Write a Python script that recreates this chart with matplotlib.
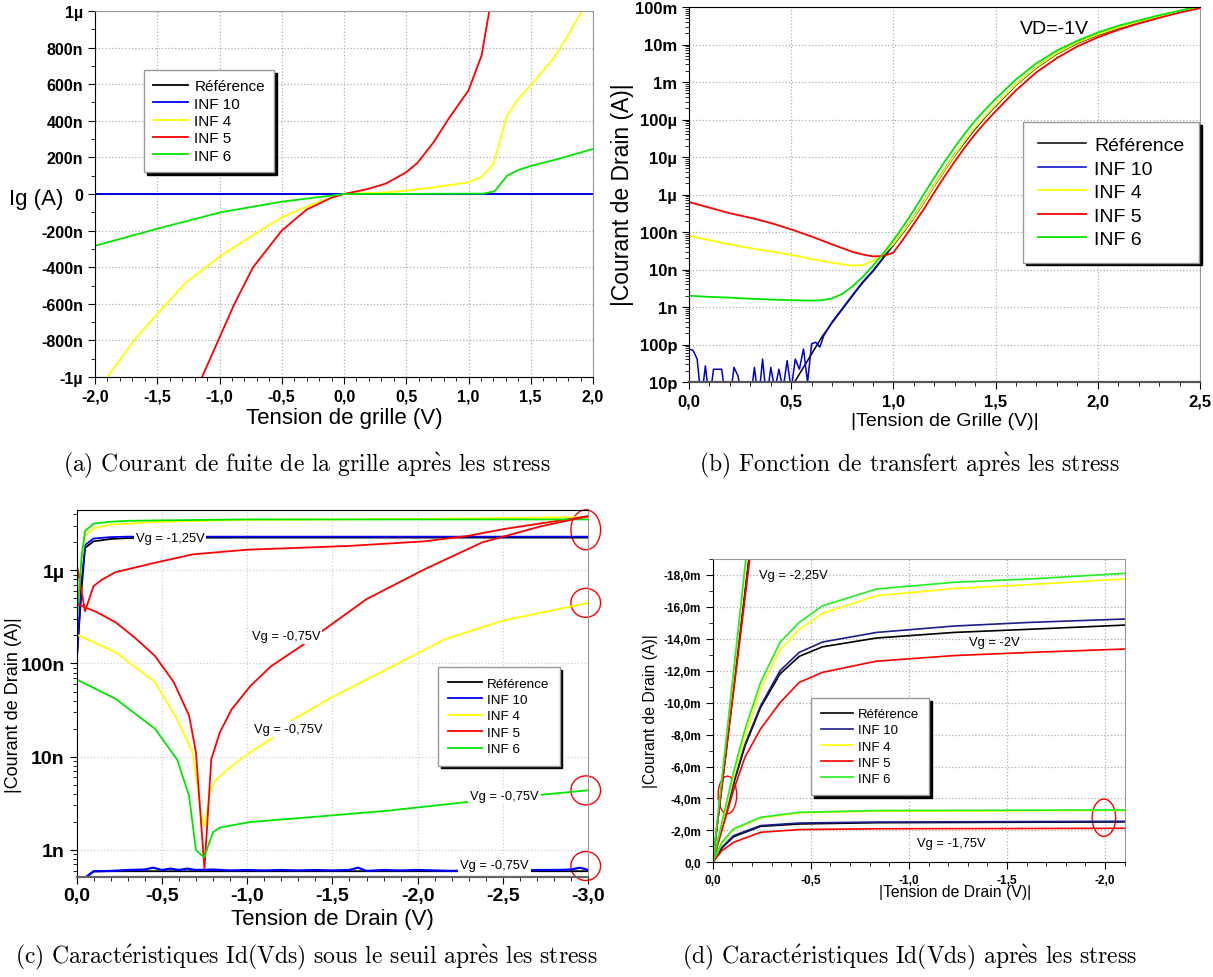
import numpy as np
import matplotlib
matplotlib.use("Agg")
import matplotlib.pyplot as plt
from matplotlib.patches import Ellipse
from matplotlib.ticker import MultipleLocator, LogLocator, NullFormatter

plt.rcParams['font.family'] = ['Liberation Sans', 'DejaVu Sans']
plt.rcParams['mathtext.fontset'] = 'cm'

# ---------------- data : (a) gate leakage, Ig in nA
a_v_flat = [-2.0, 2.0]
a_ig_flat = [0.0, 0.0]
a_v_inf4 = [-1.9, -1.68, -1.49, -1.27, -0.99, -0.74, -0.5, -0.22, 0.0, 0.34, 0.5, 0.72, 1.0, 1.1, 1.2, 1.31, 1.4, 1.51, 1.68, 1.8, 1.91]
a_ig_inf4 = [-1000, -794, -648, -484, -338, -228, -128, -46, 0, 9, 18, 36, 64, 91, 164, 429, 520, 602, 739, 867, 1000]
a_v_inf5 = [-1.14, -1.01, -0.88, -0.73, -0.5, -0.3, -0.1, 0.0, 0.19, 0.34, 0.5, 0.59, 0.72, 0.84, 1.0, 1.105, 1.167]
a_ig_inf5 = [-1000, -800, -600, -400, -200, -85, -20, 0, 27, 58, 119, 170, 283, 411, 566, 757, 1000]
a_v_inf6 = [-2.0, -1.49, -0.99, -0.5, 0.0, 1.12, 1.21, 1.31, 1.4, 1.51, 1.74, 2.0]
a_ig_inf6 = [-283, -188, -100, -42, 0, 2, 15, 100, 131, 155, 195, 246]

# ---------------- data : (b) transfer, log10(|Id|)
b_v_ref = [0.50, 0.55, 0.60, 0.65, 0.70, 0.75, 0.80, 0.85, 0.90, 0.95, 1.00, 1.05, 1.10, 1.15, 1.20, 1.25,
           1.30, 1.35, 1.40, 1.45, 1.50, 1.60, 1.70, 1.80, 1.90, 2.00, 2.10, 2.20, 2.30, 2.40, 2.50]
b_log_ref = [-11.15, -10.7, -10.25, -9.8, -9.42, -9.06, -8.7, -8.35, -8.05, -7.7, -7.35, -7.0, -6.62, -6.2, -5.77, -5.36,
             -4.96, -4.6, -4.25, -3.93, -3.64, -3.08, -2.62, -2.25, -1.97, -1.75, -1.57, -1.41, -1.27, -1.13, -1.0]
b_v_inf10 = [0.00, 0.02, 0.04, 0.06, 0.08, 0.10, 0.12, 0.14, 0.16, 0.18, 0.20, 0.22, 0.24, 0.26, 0.28, 0.30, 0.32,
             0.34, 0.36, 0.38, 0.40, 0.42, 0.44, 0.46, 0.48, 0.50, 0.52, 0.54, 0.56, 0.58, 0.60, 0.62, 0.64, 0.66,
             0.70, 0.75, 0.80, 0.85, 0.90, 0.95, 1.00, 1.05, 1.10, 1.15, 1.20, 1.25, 1.30, 1.35, 1.40, 1.45, 1.50,
             1.60, 1.70, 1.80, 1.90, 2.00, 2.10, 2.20, 2.30, 2.40, 2.50]
b_log_inf10 = [-10.12, -10.16, -10.39, -11.5, -10.57, -11.5, -10.66, -10.66, -10.66, -11.5, -11.5, -10.61, -10.84,
               -11.5, -11.5, -11.5, -10.61, -11.5, -10.39, -11.5, -10.61, -11.2, -10.66, -11.2, -10.43, -11.2,
               -10.39, -10.66, -10.12, -11.0, -9.98, -9.94, -10.07, -9.76,
               -9.40, -9.04, -8.68, -8.33, -8.03, -7.68, -7.33, -6.97, -6.59, -6.17, -5.74, -5.33, -4.93, -4.57,
               -4.22, -3.91, -3.62, -3.06, -2.6, -2.23, -1.95, -1.73, -1.55, -1.39, -1.25, -1.11, -0.99]
b_v_inf4 = [0.0, 0.1, 0.2, 0.3, 0.4, 0.5, 0.6, 0.7, 0.8, 0.85, 0.9, 0.95, 1.0, 1.05, 1.1, 1.15, 1.2, 1.25, 1.3,
            1.35, 1.4, 1.45, 1.5, 1.6, 1.7, 1.8, 1.9, 2.0, 2.1, 2.2, 2.3, 2.4, 2.5]
b_log_inf4 = [-7.1, -7.22, -7.33, -7.43, -7.52, -7.61, -7.72, -7.82, -7.9, -7.88, -7.77, -7.6, -7.32, -6.97, -6.6,
              -6.18, -5.75, -5.34, -4.94, -4.56, -4.21, -3.9, -3.61, -3.06, -2.6, -2.23, -1.95, -1.73, -1.55, -1.39,
              -1.25, -1.12, -0.99]
b_v_inf5 = [0.0, 0.1, 0.2, 0.3, 0.4, 0.5, 0.6, 0.7, 0.8, 0.85, 0.9, 0.95, 1.0, 1.05, 1.1, 1.15, 1.2, 1.25, 1.3,
            1.35, 1.4, 1.45, 1.5, 1.6, 1.7, 1.8, 1.9, 2.0, 2.1, 2.2, 2.3, 2.4, 2.5]
b_log_inf5 = [-6.2, -6.35, -6.5, -6.62, -6.76, -6.93, -7.12, -7.33, -7.53, -7.6, -7.65, -7.64, -7.55, -7.18, -6.78,
              -6.38, -5.94, -5.52, -5.12, -4.74, -4.39, -4.07, -3.78, -3.22, -2.74, -2.36, -2.05, -1.81, -1.61,
              -1.44, -1.29, -1.15, -1.03]
b_v_inf6 = [0.0, 0.1, 0.2, 0.3, 0.4, 0.5, 0.6, 0.65, 0.7, 0.75, 0.8, 0.85, 0.9, 0.95, 1.0, 1.05, 1.1, 1.15, 1.2,
            1.25, 1.3, 1.35, 1.4, 1.45, 1.5, 1.6, 1.7, 1.8, 1.9, 2.0, 2.1, 2.2, 2.3, 2.4, 2.5]
b_log_inf6 = [-8.7, -8.73, -8.75, -8.78, -8.8, -8.82, -8.83, -8.82, -8.77, -8.65, -8.45, -8.2, -7.9, -7.58, -7.22,
              -6.83, -6.42, -5.98, -5.55, -5.13, -4.74, -4.37, -4.03, -3.73, -3.45, -2.93, -2.5, -2.16, -1.9, -1.68,
              -1.5, -1.36, -1.22, -1.1, -0.97]

# ---------------- data : (c) sub-threshold Id(Vds), log10(|Id|)
c_v_sat = [0.0, -0.03, -0.05, -0.10, -0.20, -0.30, -0.50, -1.0, -2.0, -3.0]
c_log_ref_sat = [-7.0, -6.2, -5.76, -5.69, -5.665, -5.655, -5.652, -5.65, -5.65, -5.65]
c_log_inf10_sat = [-7.0, -6.1, -5.73, -5.66, -5.645, -5.64, -5.64, -5.64, -5.64, -5.64]
c_log_inf4_sat = [-6.5, -5.9, -5.63, -5.55, -5.51, -5.5, -5.48, -5.46, -5.45, -5.43]
c_log_inf6_sat = [-6.6, -5.85, -5.58, -5.5, -5.48, -5.47, -5.465, -5.455, -5.455, -5.455]
c_v_inf5_sat = [0.0, -0.05, -0.10, -0.15, -0.23, -0.46, -0.68, -1.0, -1.59, -2.04, -2.3, -2.5, -2.75, -3.0]
c_log_inf5_sat = [-5.92, -6.44, -6.17, -6.1, -6.02, -5.92, -5.83, -5.78, -5.74, -5.69, -5.63, -5.56, -5.49, -5.42]

c_v_inf5_sub = [0.0, -0.12, -0.23, -0.34, -0.46, -0.57, -0.66, -0.70, -0.75, -0.79, -0.84, -0.91, -1.02, -1.14,
                -1.32, -1.48, -1.70, -2.04, -2.38, -2.72, -3.0]
c_log_inf5_sub = [-6.36, -6.45, -6.56, -6.72, -6.92, -7.2, -7.56, -7.95, -9.2, -8.03, -7.74, -7.49, -7.24, -7.03,
                  -6.81, -6.6, -6.31, -5.99, -5.70, -5.53, -5.42]
c_v_inf4_sub = [0.0, -0.23, -0.46, -0.59, -0.68, -0.73, -0.75, -0.786, -0.82, -0.91, -1.02, -1.14, -1.27, -1.48,
                -1.82, -2.16, -2.5, -3.0]
c_log_inf4_sub = [-6.69, -6.88, -7.2, -7.6, -7.95, -8.6, -8.75, -8.35, -8.24, -8.1, -7.95, -7.81, -7.6, -7.38,
                  -7.06, -6.74, -6.54, -6.35]
c_v_inf6_sub = [0.0, -0.23, -0.46, -0.59, -0.66, -0.70, -0.748, -0.80, -0.84, -1.02, -1.36, -1.82, -2.27, -2.77, -3.0]
c_log_inf6_sub = [-7.17, -7.38, -7.7, -8.03, -8.42, -9.0, -9.08, -8.81, -8.76, -8.70, -8.65, -8.58, -8.49, -8.4, -8.36]
c_v_off = [-0.05, -0.1, -0.2, -0.3, -0.4, -0.45, -0.5, -0.55, -0.6, -0.65, -0.7, -0.8, -0.9, -1.0, -1.1, -1.2,
           -1.3, -1.4, -1.5, -1.6, -1.65, -1.7, -1.8, -1.9, -2.0, -2.1, -2.2, -2.3, -2.4, -2.5, -2.6, -2.7, -2.8,
           -2.9, -2.95, -3.0]
c_log_inf10_off = [-9.30, -9.23, -9.225, -9.215, -9.21, -9.19, -9.215, -9.20, -9.215, -9.20, -9.215, -9.21, -9.22,
                   -9.215, -9.22, -9.215, -9.22, -9.215, -9.22, -9.215, -9.19, -9.225, -9.215, -9.22, -9.215, -9.22,
                   -9.225, -9.22, -9.22, -9.22, -9.22, -9.215, -9.215, -9.21, -9.19, -9.215]
c_v_ref_off = [-0.05, -0.1, -3.0]
c_log_ref_off = [-9.30, -9.228, -9.228]

# ---------------- data : (d) Id(Vds), Id in mA
d_v_lin = [0.0, -0.2]
d_id_lin_ref = [0.0, -20.5]
d_id_lin_inf10 = [0.0, -20.6]
d_id_lin_inf4 = [0.0, -22.0]
d_id_lin_inf5 = [0.0, -20.1]
d_id_lin_inf6 = [0.0, -22.5]
d_v_2 = [0.0, -0.047, -0.106, -0.165, -0.244, -0.343, -0.441, -0.56, -0.835, -1.23, -1.62, -2.1]
d_id_2_ref = [0, -2.2, -4.9, -7.3, -9.7, -11.8, -12.9, -13.5, -14.05, -14.4, -14.6, -14.86]
d_id_2_inf10 = [0, -2.2, -5.0, -7.4, -9.8, -12.0, -13.15, -13.8, -14.4, -14.8, -15.03, -15.24]
d_id_2_inf4 = [0, -2.3, -5.3, -7.9, -10.86, -13.3, -14.6, -15.6, -16.7, -17.15, -17.4, -17.75]
d_id_2_inf5 = [0, -2.0, -4.5, -6.6, -8.35, -10.0, -11.27, -11.9, -12.6, -12.95, -13.15, -13.36]
d_id_2_inf6 = [0, -2.5, -5.64, -8.35, -11.27, -13.78, -15.03, -16.07, -17.12, -17.54, -17.75, -18.1]
d_v_175 = [0.0, -0.047, -0.106, -0.244, -0.441, -0.835, -2.1]
d_id_175_ref = [0, -0.9, -1.6, -2.25, -2.4, -2.48, -2.53]
d_id_175_inf10 = [0, -0.94, -1.67, -2.3, -2.46, -2.52, -2.57]
d_id_175_inf4 = [0, -1.2, -2.05, -2.78, -3.1, -3.2, -3.25]
d_id_175_inf5 = [0, -0.73, -1.25, -1.88, -2.05, -2.1, -2.13]
d_id_175_inf6 = [0, -1.25, -2.09, -2.82, -3.13, -3.24, -3.28]

series_names = ['Référence', 'INF 10', 'INF 4', 'INF 5', 'INF 6']

a_xticks = [-2.0, -1.5, -1.0, -0.5, 0.0, 0.5, 1.0, 1.5, 2.0]
a_xlabels = ['-2,0', '-1,5', '-1,0', '-0,5', '0,0', '0,5', '1,0', '1,5', '2,0']
a_yticks = [-1000, -800, -600, -400, -200, 0, 200, 400, 600, 800, 1000]
a_ylabels = ['-1µ', '-800n', '-600n', '-400n', '-200n', '0', '200n', '400n', '600n', '800n', '1µ']
b_xticks = [0.0, 0.5, 1.0, 1.5, 2.0, 2.5]
b_xlabels = ['0,0', '0,5', '1,0', '1,5', '2,0', '2,5']
b_yticks = [1e-11, 1e-10, 1e-9, 1e-8, 1e-7, 1e-6, 1e-5, 1e-4, 1e-3, 1e-2, 1e-1]
b_ylabels = ['10p', '100p', '1n', '10n', '100n', '1µ', '10µ', '100µ', '1m', '10m', '100m']
c_xticks = [0.0, -0.5, -1.0, -1.5, -2.0, -2.5, -3.0]
c_xlabels = ['0,0', '-0,5', '-1,0', '-1,5', '-2,0', '-2,5', '-3,0']
c_yticks = [1e-9, 1e-8, 1e-7, 1e-6]
c_ylabels = ['1n', '10n', '100n', '1µ']
d_xticks = [0.0, -0.5, -1.0, -1.5, -2.0]
d_xlabels = ['0,0', '-0,5', '-1,0', '-1,5', '-2,0']
d_yticks = [0, -2, -4, -6, -8, -10, -12, -14, -16, -18]
d_ylabels = ['0,0', '-2,0m', '-4,0m', '-6,0m', '-8,0m', '-10,0m', '-12,0m', '-14,0m', '-16,0m', '-18,0m']

captions = [r'(a) Courant de fuite de la grille apr$\grave{\mathrm{e}}$s les stress',
            r'(b) Fonction de transfert apr$\grave{\mathrm{e}}$s les stress',
            r'(c) Caract$\acute{\mathrm{e}}$ristiques Id(Vds) sous le seuil apr$\grave{\mathrm{e}}$s les stress',
            r'(d) Caract$\acute{\mathrm{e}}$ristiques Id(Vds) apr$\grave{\mathrm{e}}$s les stress']

# colours
BLK, BLU, YEL, RED, GRN = 'black', '#0000ff', '#ffff00', '#ff0000', '#00e600'

W, H = 1213, 978
fig = plt.figure(figsize=(W / 100, H / 100), dpi=100)


def box(l, r, t, b):
    return [l / W, 1 - b / H, (r - l) / W, (b - t) / H]


def style(ax, fs, grid_c='#b0b0b0'):
    ax.grid(True, which='major', ls=':', color=grid_c, lw=0.9)
    ax.tick_params(which='both', direction='out', labelsize=fs)
    ax.tick_params(which='major', length=5)
    ax.tick_params(which='minor', length=3)
    for lab in ax.get_xticklabels() + ax.get_yticklabels():
        lab.set_fontweight('bold')
    ax.set_axisbelow(True)


def legend(ax, x, y, fs, ls, hl=2.5, bp=0.75):
    lg = ax.legend(loc='upper left', bbox_to_anchor=(x / W, 1 - y / H), bbox_transform=fig.transFigure,
                   borderaxespad=0, fontsize=fs, labelspacing=ls, handlelength=hl, handletextpad=0.4,
                   borderpad=bp, fancybox=False, framealpha=1, edgecolor='#999999',
                   shadow={'color': 'black', 'alpha': 1})
    lg.get_frame().set_linewidth(1.0)
    return lg


# ================= (a)
ax = fig.add_axes(box(95, 593, 12, 378))
ax.plot(a_v_flat, a_ig_flat, color=BLK, lw=1.3, label=series_names[0])
ax.plot(a_v_flat, a_ig_flat, color=BLU, lw=1.3, label=series_names[1])
ax.plot(a_v_inf4, a_ig_inf4, color=YEL, lw=1.3, label=series_names[2])
ax.plot(a_v_inf5, a_ig_inf5, color=RED, lw=1.3, label=series_names[3])
ax.plot(a_v_inf6, a_ig_inf6, color=GRN, lw=1.3, label=series_names[4])
ax.set_xlim(-2, 2)
ax.set_ylim(-1000, 1000)
ax.set_xticks(a_xticks, a_xlabels)
ax.set_yticks(a_yticks, a_ylabels)
ax.xaxis.set_minor_locator(MultipleLocator(0.1))
ax.yaxis.set_minor_locator(MultipleLocator(100))
style(ax, 11.5)
ax.spines['top'].set_color('#999999')
ax.spines['right'].set_color('#999999')
ax.set_xlabel('Tension de grille (V)', fontsize=16, labelpad=2)
fig.text(36 / W, 1 - 199 / H, 'Ig (A)', fontsize=16, ha='center', va='center')
legend(ax, 144, 71, 11, 0.22, hl=2.3, bp=0.6)

# ================= (b)
ax = fig.add_axes(box(689, 1200, 8, 383))
ax.plot(b_v_ref, 10 ** np.array(b_log_ref), color=BLK, lw=1.1, label=series_names[0])
ax.plot(b_v_inf10, 10 ** np.array(b_log_inf10), color='#0000cc', lw=1.1, label=series_names[1])
ax.plot(b_v_inf4, 10 ** np.array(b_log_inf4), color=YEL, lw=1.3, label=series_names[2])
ax.plot(b_v_inf5, 10 ** np.array(b_log_inf5), color=RED, lw=1.3, label=series_names[3])
ax.plot(b_v_inf6, 10 ** np.array(b_log_inf6), color=GRN, lw=1.3, label=series_names[4])
ax.set_yscale('log')
ax.set_xlim(0, 2.5)
ax.set_ylim(1e-11, 1e-1)
ax.set_xticks(b_xticks, b_xlabels)
ax.set_yticks(b_yticks, b_ylabels)
ax.yaxis.set_minor_locator(LogLocator(base=10, subs=np.arange(2, 10), numticks=30))
ax.yaxis.set_minor_formatter(NullFormatter())
ax.xaxis.set_minor_locator(MultipleLocator(0.1))
style(ax, 12)
ax.spines['right'].set_color('#999999')
ax.spines['bottom'].set_color('#555555')
ax.spines['bottom'].set_linewidth(1.6)
ax.set_xlabel('|Tension de Grille (V)|', fontsize=14, labelpad=2)
fig.text(623 / W, 1 - 195 / H, '|Courant de Drain (A)|', fontsize=16.5, rotation=90, ha='center', va='center')
ax.text(1020 / W, 1 - 30 / H, 'VD=-1V', transform=fig.transFigure, fontsize=14, va='center')
legend(ax, 1023, 123, 14, 0.3)

# ================= (c)
ax = fig.add_axes(box(76.5, 588.3, 511, 878))
ax.plot(c_v_sat, 10 ** np.array(c_log_ref_sat), color=BLK, lw=1.3, label=series_names[0])
ax.plot(c_v_sat, 10 ** np.array(c_log_inf10_sat), color=BLU, lw=1.3, label=series_names[1])
ax.plot(c_v_sat, 10 ** np.array(c_log_inf4_sat), color=YEL, lw=1.3, label=series_names[2])
ax.plot(c_v_inf5_sat, 10 ** np.array(c_log_inf5_sat), color=RED, lw=1.3, label=series_names[3])
ax.plot(c_v_sat, 10 ** np.array(c_log_inf6_sat), color=GRN, lw=1.3, label=series_names[4])
ax.plot(c_v_ref_off, 10 ** np.array(c_log_ref_off), color=BLK, lw=1.3)
ax.plot(c_v_off, 10 ** np.array(c_log_inf10_off), color=BLU, lw=1.6)
ax.plot(c_v_inf4_sub, 10 ** np.array(c_log_inf4_sub), color=YEL, lw=1.3)
ax.plot(c_v_inf5_sub, 10 ** np.array(c_log_inf5_sub), color=RED, lw=1.3)
ax.plot(c_v_inf6_sub, 10 ** np.array(c_log_inf6_sub), color=GRN, lw=1.3)
ax.set_yscale('log')
ax.set_xlim(0, -3)
ax.set_ylim(10 ** -9.29, 10 ** -5.354)
ax.set_xticks(c_xticks, c_xlabels)
ax.set_yticks(c_yticks, c_ylabels)
ax.yaxis.set_minor_locator(LogLocator(base=10, subs=np.arange(2, 10), numticks=30))
ax.yaxis.set_minor_formatter(NullFormatter())
ax.xaxis.set_minor_locator(MultipleLocator(0.1))
style(ax, 14, grid_c='#d0d0d0')
ax.tick_params(axis='x', pad=2)
ax.spines['right'].set_color('#999999')
ax.spines['bottom'].set_color('#666666')
ax.spines['bottom'].set_linewidth(1.6)
fig.text(332 / W, 1 - 919 / H, 'Tension de Drain (V)', fontsize=16, ha='center', va='center')
fig.text(14 / W, 1 - 705 / H, '|Courant de Drain (A)|', fontsize=13, rotation=90, ha='center', va='center')
lab_kw = dict(fontsize=9.3, ha='center', va='center', bbox=dict(fc='white', ec='none', pad=1.5))
ax.text(-0.548, 10 ** -5.65, 'Vg = -1,25V', **lab_kw)
ax.text(-1.228, 10 ** -6.70, 'Vg = -0,75V', **lab_kw)
ax.text(-1.24, 10 ** -7.70, 'Vg = -0,75V', **lab_kw)
ax.text(-2.509, 10 ** -8.42, 'Vg = -0,75V', **lab_kw)
ax.text(-2.452, 10 ** -9.16, 'Vg = -0,75V', **lab_kw)
for ey, eh in [(0.946, 0.109), (0.747, 0.079), (0.236, 0.079), (0.030, 0.079)]:
    ax.add_patch(Ellipse((0.995, ey), 0.058, eh, transform=ax.transAxes, fill=False, ec='red', lw=1.0,
                         clip_on=False))
legend(ax, 438, 668, 9.7, 0.3)

# ================= (d)
ax = fig.add_axes(box(712.7, 1124.7, 560, 863.3))
names = series_names
for idl, id2, id175, col, nm in [(d_id_lin_ref, d_id_2_ref, d_id_175_ref, BLK, names[0]),
                                  (d_id_lin_inf10, d_id_2_inf10, d_id_175_inf10, '#1c1c8c', names[1]),
                                  (d_id_lin_inf4, d_id_2_inf4, d_id_175_inf4, YEL, names[2]),
                                  (d_id_lin_inf5, d_id_2_inf5, d_id_175_inf5, RED, names[3]),
                                  (d_id_lin_inf6, d_id_2_inf6, d_id_175_inf6, '#22ee22', names[4])]:
    ax.plot(d_v_lin, np.array(idl) * 1e-3, color=col, lw=1.2, label=nm)
    ax.plot(d_v_2, np.array(id2) * 1e-3, color=col, lw=1.2)
    ax.plot(d_v_175, np.array(id175) * 1e-3, color=col, lw=1.2)
ax.set_xlim(0, -2.1)
ax.set_ylim(0, -0.019)
ax.set_xticks(d_xticks, d_xlabels)
ax.set_yticks(np.array(d_yticks) * 1e-3, d_ylabels)
ax.xaxis.set_minor_locator(MultipleLocator(0.1))
ax.yaxis.set_minor_locator(MultipleLocator(0.001))
style(ax, 8.5)
ax.spines['top'].set_color('#999999')
ax.spines['right'].set_color('#999999')
fig.text(955 / W, 1 - 893 / H, '|Tension de Drain (V)|', fontsize=11.3, ha='center', va='center')
fig.text(650 / W, 1 - 711 / H, '|Courant de Drain (A)|', fontsize=11.3, rotation=90, ha='center', va='center')
ax.text(-0.41, -0.0180, 'Vg = -2,25V', fontsize=9.3, ha='center', va='center')
ax.text(-1.438, -0.01378, 'Vg = -2V', fontsize=9.3, ha='center', va='center')
ax.text(-1.214, -0.00121, 'Vg = -1,75V', fontsize=9.3, ha='center', va='center')
for ex, ey, ew, eh in [(0.0357, 0.222, 0.045, 0.124), (0.9495, 0.147, 0.057, 0.123)]:
    ax.add_patch(Ellipse((ex, ey), ew, eh, transform=ax.transAxes, fill=False, ec='red', lw=1.0, clip_on=False))
legend(ax, 811, 699, 9.5, 0.3, hl=2.4)

# ================= captions
cap_kw = dict(fontsize=17, family=['cmr10', 'DejaVu Serif'], ha='center', va='center')
fig.text(307 / W, 1 - 465 / H, captions[0], **cap_kw)
fig.text(909 / W, 1 - 465 / H, captions[1], **cap_kw)
fig.text(306 / W, 1 - 957 / H, captions[2], **cap_kw)
fig.text(910 / W, 1 - 957 / H, captions[3], **cap_kw)

fig.savefig('out.png', dpi=100)
